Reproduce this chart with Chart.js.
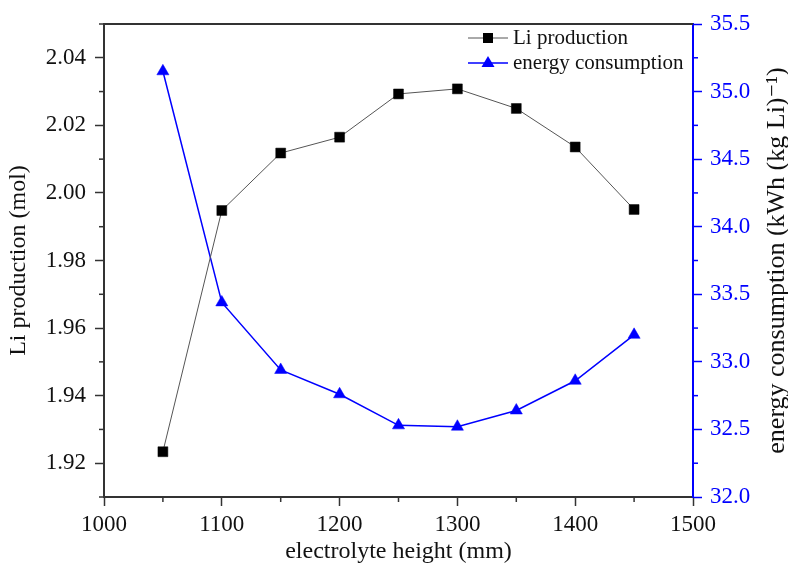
<!DOCTYPE html>
<html lang="en">
<head>
    <meta charset="UTF-8">
    <title>Li production vs electrolyte height</title>
    <script src="https://cdn.jsdelivr.net/npm/chart.js"></script>
    <style>
        body { margin: 0; background: #fff; }
        canvas { display: block; }
    </style>
</head>
<body>
    <canvas id="grafico" width="788" height="567"></canvas>

<script>
    // dados
    var alturas = [1050, 1100, 1150, 1200, 1250, 1300, 1350, 1400, 1450];
    var producao_li = [1.9234, 1.9948, 2.0118, 2.0165, 2.0293, 2.0308, 2.0250, 2.0136, 1.9951];
    var consumo_energia = [35.15, 33.44, 32.94, 32.76, 32.53, 32.52, 32.64, 32.86, 33.20];

    var ticks_x = [1000, 1100, 1200, 1300, 1400, 1500];
    var ticks_x_menor = [1050, 1150, 1250, 1350, 1450];
    var ticks_esq = [1.92, 1.94, 1.96, 1.98, 2.00, 2.02, 2.04];
    var ticks_esq_menor = [1.91, 1.93, 1.95, 1.97, 1.99, 2.01, 2.03, 2.05];
    var ticks_dir = [32.0, 32.5, 33.0, 33.5, 34.0, 34.5, 35.0, 35.5];
    var ticks_dir_menor = [32.25, 32.75, 33.25, 33.75, 34.25, 34.75, 35.25];

    var fonte = "'Liberation Serif', 'DejaVu Serif', serif";
    var azul = "#0000ff";

    var pontos_li = alturas.map((x, i) => ({ x: x, y: producao_li[i] }));
    var pontos_energia = alturas.map((x, i) => ({ x: x, y: consumo_energia[i] }));

    // ticks menores, desenhados pela escala do proprio Chart.js
    var ticksMenores = {
        id: 'ticksMenores',
        afterDraw(chart) {
            var ctx = chart.ctx;
            var a = chart.chartArea;
            ctx.save();
            ctx.lineWidth = 1.5;
            ctx.strokeStyle = '#333';
            ticks_x_menor.forEach(v => {
                var px = chart.scales.x.getPixelForValue(v);
                ctx.beginPath(); ctx.moveTo(px, a.bottom); ctx.lineTo(px, a.bottom + 5); ctx.stroke();
            });
            ticks_esq_menor.forEach(v => {
                var py = chart.scales.y.getPixelForValue(v);
                ctx.beginPath(); ctx.moveTo(a.left, py); ctx.lineTo(a.left - 5, py); ctx.stroke();
            });
            ctx.strokeStyle = azul;
            ticks_dir_menor.forEach(v => {
                var py = chart.scales.y2.getPixelForValue(v);
                ctx.beginPath(); ctx.moveTo(a.right, py); ctx.lineTo(a.right + 5, py); ctx.stroke();
            });
            // linha de cima da moldura
            ctx.strokeStyle = '#333';
            ctx.lineWidth = 2;
            ctx.beginPath(); ctx.moveTo(a.left - 1, a.top); ctx.lineTo(a.right, a.top); ctx.stroke();

            // titulo do eixo direito (lido de baixo para cima)
            ctx.fillStyle = '#111';
            ctx.font = '26px ' + fonte;
            ctx.textAlign = 'center';
            ctx.textBaseline = 'middle';
            ctx.translate(777, (a.top + a.bottom) / 2);
            ctx.rotate(-Math.PI / 2);
            ctx.fillText('energy consumption (kWh (kg Li)\u207B\u00B9)', 0, 0);
            ctx.restore();
        }
    };

    // legenda dentro da area do grafico
    var legenda = {
        id: 'legenda',
        afterDraw(chart) {
            var ctx = chart.ctx;
            var linhas = [
                { texto: 'Li production', cor: '#555', marca: '#000', forma: 'rect', y: 38 },
                { texto: 'energy consumption', cor: azul, marca: azul, forma: 'tri', y: 63 }
            ];
            ctx.save();
            linhas.forEach(l => {
                ctx.strokeStyle = l.cor;
                ctx.lineWidth = l.forma == 'tri' ? 1.5 : 1;
                ctx.beginPath(); ctx.moveTo(468, l.y); ctx.lineTo(508, l.y); ctx.stroke();
                ctx.fillStyle = l.marca;
                if (l.forma == 'rect') {
                    ctx.fillRect(488 - 5, l.y - 5, 10, 10);
                } else {
                    ctx.beginPath();
                    ctx.moveTo(488, l.y - 7); ctx.lineTo(494.5, l.y + 4); ctx.lineTo(481.5, l.y + 4);
                    ctx.closePath(); ctx.fill();
                }
                ctx.fillStyle = '#111';
                ctx.font = '21px ' + fonte;
                ctx.textAlign = 'left';
                ctx.textBaseline = 'middle';
                ctx.fillText(l.texto, 513, l.y);
            });
            ctx.restore();
        }
    };

    var config = {
        type: 'line',
        data: {
            datasets: [{
                label: 'Li production',
                data: pontos_li,
                yAxisID: 'y',
                borderColor: '#555',
                borderWidth: 1,
                pointStyle: 'rect',
                pointRadius: 7,
                pointBackgroundColor: '#000',
                pointBorderColor: '#000',
                pointBorderWidth: 0.5,
                tension: 0
            }, {
                label: 'energy consumption',
                data: pontos_energia,
                yAxisID: 'y2',
                borderColor: azul,
                borderWidth: 1.5,
                pointStyle: 'triangle',
                pointRadius: 7,
                pointBackgroundColor: azul,
                pointBorderColor: azul,
                pointBorderWidth: 0.5,
                tension: 0
            }]
        },
        options: {
            responsive: false,
            animation: false,
            layout: { padding: { top: 24, left: 0, right: 0, bottom: 0 } },
            plugins: {
                legend: { display: false },
                tooltip: { enabled: false }
            },
            scales: {
                x: {
                    type: 'linear',
                    min: 1000,
                    max: 1500,
                    afterFit(s) { s.height = 70; },
                    afterBuildTicks(s) { s.ticks = ticks_x.map(v => ({ value: v })); },
                    border: { color: '#333', width: 2 },
                    grid: { drawOnChartArea: false, tickLength: 9, tickWidth: 1.5, tickColor: '#333' },
                    ticks: {
                        padding: 5,
                        color: '#111',
                        font: { family: fonte, size: 23 },
                        maxRotation: 0,
                        callback: v => String(v)
                    },
                    title: {
                        display: true,
                        text: 'electrolyte height (mm)',
                        color: '#111',
                        font: { family: fonte, size: 24 },
                        padding: { top: 0, bottom: 1 }
                    }
                },
                y: {
                    type: 'linear',
                    position: 'left',
                    min: 1.91,
                    max: 2.05,
                    afterFit(s) { s.width = 104; },
                    afterBuildTicks(s) { s.ticks = ticks_esq.map(v => ({ value: v })); },
                    border: { color: '#333', width: 2 },
                    grid: { drawOnChartArea: false, tickLength: 9, tickWidth: 1.5, tickColor: '#333' },
                    ticks: {
                        padding: 9,
                        color: '#111',
                        font: { family: fonte, size: 23 },
                        callback: v => v.toFixed(2)
                    },
                    title: {
                        display: true,
                        text: 'Li production (mol)',
                        color: '#111',
                        font: { family: fonte, size: 24 },
                        padding: { top: 4, bottom: 0 }
                    }
                },
                y2: {
                    type: 'linear',
                    position: 'right',
                    min: 32,
                    max: 35.5,
                    afterFit(s) { s.width = 95; },
                    afterBuildTicks(s) { s.ticks = ticks_dir.map(v => ({ value: v })); },
                    border: { color: azul, width: 2 },
                    grid: { drawOnChartArea: false, tickLength: 9, tickWidth: 1.5, tickColor: azul },
                    ticks: {
                        padding: 8,
                        color: azul,
                        font: { family: fonte, size: 23 },
                        callback: v => v.toFixed(1)
                    }
                }
            }
        },
        plugins: [ticksMenores, legenda]
    };

    var ctx = document.getElementById('grafico');
    var grafico = new Chart(ctx, config);
</script>
</body>
</html>
